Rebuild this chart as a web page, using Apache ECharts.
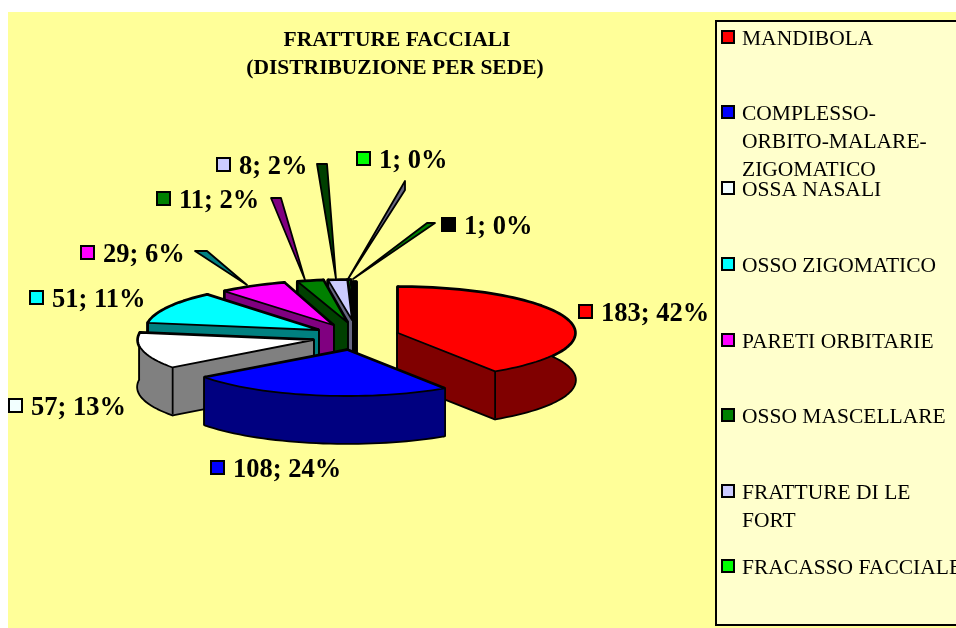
<!DOCTYPE html>
<html>
<head>
<meta charset="utf-8">
<script src="https://cdn.jsdelivr.net/npm/echarts@6/dist/echarts.min.js"></script>
<style>html,body{margin:0;padding:0;background:#fff}#c{width:956px;height:628px}</style>
</head>
<body>
<div id="c"></div>
<script>
// ---- data ----
const titleLines = ['FRATTURE FACCIALI', '(DISTRIBUZIONE PER SEDE)'];
const categories = ['MANDIBOLA', 'COMPLESSO-\nORBITO-MALARE-\nZIGOMATICO', 'OSSA NASALI', 'OSSO ZIGOMATICO', 'PARETI ORBITARIE', 'OSSO MASCELLARE', 'FRATTURE DI LE\nFORT', 'FRACASSO FACCIALE'];
const values = [183, 108, 57, 51, 29, 11, 8, 1, 1];
const percents = [42, 24, 13, 11, 6, 2, 2, 0, 0];

// ---- styles ----
const topColors = ['#FF0000', '#0000FF', '#FFFFFF', '#00FFFF', '#FF00FF', '#008000', '#CCCCFF', '#00FF00', '#000000'];
const sideColors = ['#800000', '#000080', '#808080', '#008080', '#800080', '#004000', '#666680', '#008000', '#000000'];
const keyColors = ['#FF0000', '#0000FF', '#F2FFFF', '#00FFFF', '#FF00FF', '#008000', '#CCCCFF', '#00FF00', '#000000'];

// ---- layout of the broken 3-D projection ----
const apexX = [398, 347, 313, 318, 333, 347, 352, 353, 356];
const apexY = [333, 350, 340, 330, 325, 322, 320, 320, 322];
const radX = [177, 177, 175, 172, 168, 170, 170, 170, 170];
const radY = [46, 46, 46, 46, 44, 42, 40, 40, 40];
const depth = 47;
const drawOrder = [8, 7, 6, 5, 4, 3, 2, 0, 1];
// thin shards that the original renderer left behind the back slices: [base, tip1, tip2] offsets from the apex
const shards = {
  3: [[-71, -45], [-123, -79], [-111, -79]],
  4: [[-28, -45], [-62, -127], [-52, -127]],
  5: [[-11, -43], [-30, -158], [-20, -158]],
  6: [[-4, -41], [53, -139], [53, -130]],
  7: [[0, -41], [82, -97], [74, -97]]
};
const labelX = [578, 210, 8, 29, 80, 156, 216, 356, 441];
const labelY = [312, 468, 406, 298, 253, 199, 165, 159, 225];
const legendY = [37, 112, 188, 264, 340, 415, 491, 566];

const FONT = '"Liberation Serif","Times New Roman",serif';
const total = values.reduce((a, b) => a + b, 0);
const cumulative = values.map((_, i) => values.slice(0, i).reduce((a, b) => a + b, 0));

function renderSlice(params, api) {
  const i = api.value(0);
  const a0 = cumulative[i] / total * Math.PI * 2;
  const a1 = (cumulative[i] + api.value(1)) / total * Math.PI * 2;
  const ax = apexX[i], ay = apexY[i], rx = radX[i], ry = radY[i];
  const arc = [];
  const n = Math.max(2, Math.ceil((a1 - a0) / 0.04));
  for (let k = 0; k <= n; k++) {
    const t = a0 + (a1 - a0) * k / n;
    arc.push([ax + rx * Math.sin(t), ay - ry * Math.cos(t)]);
  }
  const down = p => [p[0], p[1] + depth];
  const LW = 1.8;
  const poly = (points, fill) => ({ type: 'polygon', shape: { points }, style: { fill, stroke: '#000', lineWidth: LW, lineJoin: 'round' } });
  const apex = [ax, ay];
  const first = arc[0], last = arc[arc.length - 1];
  const sides = [
    [apex, first, down(first), down(apex)],
    [apex, last, down(last), down(apex)],
    arc.concat(arc.slice().reverse().map(down))
  ];
  const children = [];
  if (shards[i]) {
    children.push(poly(shards[i].map(o => [ax + o[0], ay + o[1]]), sideColors[i]));
  }
  // wide outline underneath, fills on top: only the silhouette of the side keeps its line
  sides.forEach(points => children.push({ type: 'polygon', shape: { points }, style: { fill: sideColors[i], stroke: '#000', lineWidth: LW * 2, lineJoin: 'round' } }));
  sides.forEach(points => children.push({ type: 'polygon', shape: { points }, style: { fill: sideColors[i], stroke: null } }));
  // the corner edge that faces the viewer
  const seams = [];
  if (Math.sin(a0) < 0) seams.push(first);
  if (Math.sin(a1) > 0) seams.push(last);
  seams.forEach(p => children.push({ type: 'polyline', shape: { points: [p, down(p)] }, style: { stroke: '#000', lineWidth: LW, fill: null } }));
  children.push(poly([apex].concat(arc), topColors[i]));
  // data label with its key
  const lx = labelX[i], ly = labelY[i];
  children.push({ type: 'rect', z2: 100, shape: { x: lx + 1, y: ly - 7, width: 13, height: 13 }, style: { fill: keyColors[i], stroke: '#000', lineWidth: 2 } });
  children.push({ type: 'text', z2: 100, style: { text: values[i] + '; ' + percents[i] + '%', x: lx + 23, y: ly + 2, font: 'bold 26.5px ' + FONT, fill: '#000', verticalAlign: 'middle', align: 'left' } });
  return { type: 'group', children };
}

const graphics = [
  { type: 'rect', shape: { x: 8, y: 12, width: 948, height: 616 }, style: { fill: '#FFFF99' } },
  { type: 'rect', shape: { x: 716, y: 21, width: 250, height: 604 }, style: { fill: '#FFFFCC', stroke: '#000', lineWidth: 2 } }
];
titleLines.forEach((t, i) => graphics.push({
  type: 'text', style: { text: t, x: 397 - i * 2, y: 40 + i * 28, align: 'center', verticalAlign: 'middle', font: 'bold 21.5px ' + FONT, fill: '#000' }
}));
categories.forEach((name, i) => {
  graphics.push({ type: 'rect', shape: { x: 722, y: legendY[i] - 6, width: 12, height: 12 }, style: { fill: keyColors[i], stroke: '#000', lineWidth: 2 } });
  name.split('\n').forEach((ln, k) => graphics.push({
    type: 'text', style: { text: ln, x: 742, y: legendY[i] + 2 + k * 28, align: 'left', verticalAlign: 'middle', font: '21.5px ' + FONT, fill: '#000' }
  }));
});

const chart = echarts.init(document.getElementById('c'), null, { renderer: 'canvas' });
chart.setOption({
  animation: false,
  backgroundColor: '#FFFFFF',
  graphic: graphics,
  series: [{
    type: 'custom',
    coordinateSystem: 'none',
    silent: true,
    renderItem: renderSlice,
    data: drawOrder.map(i => [i, values[i]])
  }]
});
</script>
</body>
</html>
